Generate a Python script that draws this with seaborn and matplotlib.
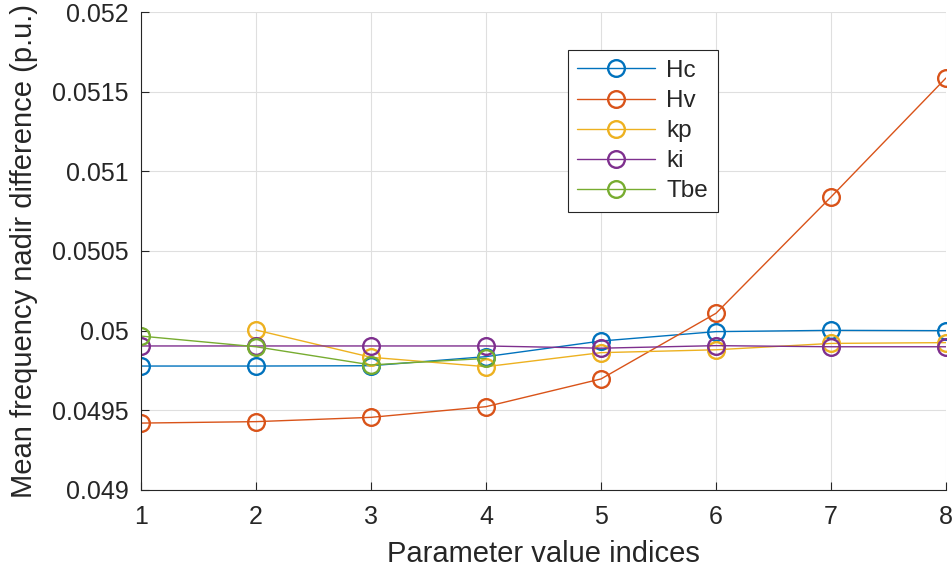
import numpy as np
import pandas as pd
import matplotlib
matplotlib.use("Agg")
import matplotlib.pyplot as plt
from matplotlib.lines import Line2D
import seaborn as sns

# values
indices = [1, 2, 3, 4, 5, 6, 7, 8]
hc = [0.049778, 0.049778, 0.04978, 0.049837, 0.049935, 0.049994, 0.050002, 0.050000]
hv = [0.049420, 0.049429, 0.049456, 0.049523, 0.049697, 0.050109, 0.050839, 0.051586]
kp = [np.nan, 0.050004, 0.049833, 0.049774, 0.049862, 0.049880, 0.049920, 0.049925]
ki = [0.049904, 0.049904, 0.049904, 0.049904, 0.049890, 0.049906, 0.049899, 0.049899]
tbe = [0.049966, 0.049899, 0.049785, 0.049826, np.nan, np.nan, np.nan, np.nan]

names = ["Hc", "Hv", "kp", "ki", "Tbe"]
colors = ["#0072BD", "#D95319", "#EDB120", "#7E2F8E", "#77AC30"]

df = pd.DataFrame({"idx": indices, "Hc": hc, "Hv": hv, "kp": kp, "ki": ki, "Tbe": tbe})
long_df = df.melt(id_vars="idx", var_name="param", value_name="diff").dropna()

sns.set_style("whitegrid")
plt.rcParams["font.family"] = ["Liberation Sans", "DejaVu Sans"]

fig = plt.figure(figsize=(9.52, 5.76), dpi=100)
ax = fig.add_axes([141 / 952, 1 - 490 / 576, (946 - 141) / 952, (490 - 12) / 576])

msize = 12
sns.lineplot(data=long_df, x="idx", y="diff", hue="param", hue_order=names,
             palette=colors, marker="o", markersize=msize, markerfacecolor="none",
             markeredgewidth=1.7, linewidth=1.0, ax=ax, legend=False)

for line, c in zip(ax.lines, colors):
    line.set_markeredgecolor(c)

ax.set_xlim(1, 8)
ax.set_ylim(0.049, 0.052)
ax.set_xticks(indices)
yt = [0.049, 0.0495, 0.05, 0.0505, 0.051, 0.0515, 0.052]
ax.set_yticks(yt)
ax.set_yticklabels(["0.049", "0.0495", "0.05", "0.0505", "0.051", "0.0515", "0.052"])
ax.tick_params(axis="both", direction="in", length=6, width=0.8, labelsize=18,
               color="#262626", labelcolor="#262626", left=True, bottom=True)
ax.tick_params(axis="y", pad=9)
ax.tick_params(axis="x", pad=11)
ax.grid(True, color="#DFDFDF", linewidth=0.8)

for s in ["top", "right"]:
    ax.spines[s].set_visible(False)
for s in ["left", "bottom"]:
    ax.spines[s].set_color("#262626")
    ax.spines[s].set_linewidth(0.8)

ax.set_xlabel("Parameter value indices", fontsize=21, color="#262626", labelpad=8)
ax.set_ylabel("Mean frequency nadir difference (p.u.)", fontsize=21, color="#262626", labelpad=10)

handles = [Line2D([], [], color=c, linewidth=1.0, marker="o", markersize=msize,
                  markerfacecolor="none", markeredgecolor=c, markeredgewidth=1.7)
           for c in colors]
leg = ax.legend(handles, names, loc="upper left", bbox_to_anchor=(0.530, 0.920),
                fontsize=17.5, frameon=True, fancybox=False, edgecolor="#262626",
                framealpha=1, handlelength=3.2, borderpad=0.4, labelspacing=0.33,
                handletextpad=0.45, borderaxespad=0)
leg.get_frame().set_linewidth(0.8)

fig.savefig("out.png", dpi=100)
